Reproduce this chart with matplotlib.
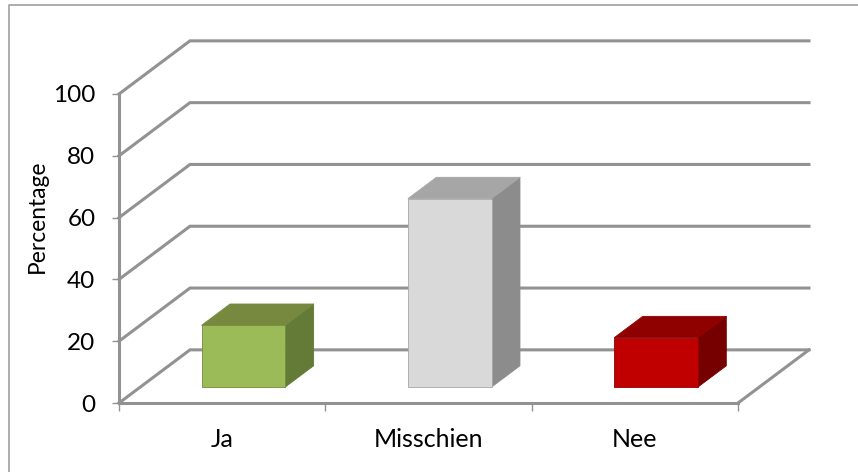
"""3D-look column chart, drawn as an oblique projection on a plain 2D axes."""
import matplotlib
matplotlib.use("Agg")
import matplotlib.pyplot as plt
from matplotlib.lines import Line2D
from matplotlib.patches import Polygon

plt.rcParams.update({"font.family": ["Lato", "DejaVu Sans"]})

CATEGORIES = ["Ja", "Misschien", "Nee"]
VALUES = [20, 61, 16]
FRONT = ["#9bbb59", "#d9d9d9", "#c00000"]
TOP = ["#77893f", "#a6a6a6", "#8f0000"]
SIDE = ["#647a37", "#8c8c8c", "#760000"]
YTICKS = [0, 20, 40, 60, 80, 100]
WALL = "#929292"

W, H = 858, 472
# floor depth expressed in axis units (one category wide, value scale)
DEPTH_X, DEPTH_Y = 0.344, 17.2
BAR_W = 0.405
BAR_Z = 0.30   # where the bar front stands on the floor, 0 front .. 1 back
BAR_D = 0.40   # bar depth as a fraction of floor depth


def proj(x, v, z=0.0):
    return x + DEPTH_X * z, v + DEPTH_Y * z


fig = plt.figure(figsize=(W / 100, H / 100), dpi=100)
# chart frame only shows on the left and top, the rest is cropped away
fig.add_artist(Line2D([8.5 / W, 8.5 / W, 1], [0, 1 - 4.5 / H, 1 - 4.5 / H], transform=fig.transFigure,
                      color="#a0a0a0", lw=1.2, zorder=-1))
ax = fig.add_axes([119 / W, 1 - 403 / H, (738 - 119) / W, (403 - 94) / H])
ax.patch.set_visible(False)
ax.set_xlim(0, 3)
ax.set_ylim(0, 100)

# gridlines: along the side wall, then along the back wall
for t in YTICKS:
    x0, y0 = proj(0, t, 1)
    x1, y1 = proj(3, t, 1)
    ax.plot([0, x0, x1], [t, y0, y1], color=WALL, lw=2.2, clip_on=False, zorder=1,
            solid_joinstyle="miter")
# floor front-right edge
x0, y0 = proj(3, 0, 1)
ax.plot([3, x0], [0, y0], color=WALL, lw=2.2, clip_on=False, zorder=1)

for i, v in enumerate(VALUES):
    xl = i + 0.5 - BAR_W / 2
    xr = i + 0.5 + BAR_W / 2
    z0, z1 = BAR_Z, BAR_Z + BAR_D
    front = [proj(xl, 0, z0), proj(xr, 0, z0), proj(xr, v, z0), proj(xl, v, z0)]
    side = [proj(xr, 0, z0), proj(xr, 0, z1), proj(xr, v, z1), proj(xr, v, z0)]
    top = [proj(xl, v, z0), proj(xr, v, z0), proj(xr, v, z1), proj(xl, v, z1)]
    kw = dict(clip_on=False, zorder=3, lw=0.6, joinstyle="round")
    ax.add_patch(Polygon(side, facecolor=SIDE[i], edgecolor=SIDE[i], **kw))
    ax.add_patch(Polygon(top, facecolor=TOP[i], edgecolor=TOP[i], **kw))
    ax.add_patch(Polygon(front, facecolor=FRONT[i], edgecolor=TOP[i], **kw))

for s in ["top", "right"]:
    ax.spines[s].set_visible(False)
for s in ["left", "bottom"]:
    ax.spines[s].set_color(WALL)
    ax.spines[s].set_linewidth(2.2)

ax.set_yticks(YTICKS)
ax.set_xticks([0, 1, 2, 3])
ax.set_xticklabels([])
ax.set_xticks([0.5, 1.5, 2.5], minor=True)
ax.set_xticklabels(CATEGORIES, minor=True)
ax.tick_params(axis="x", which="minor", length=0, labelsize=18, pad=18, labelcolor="black")
ax.tick_params(axis="x", which="major", length=6, width=1, color=WALL)
ax.tick_params(axis="y", length=5, width=1, color=WALL, labelsize=17.5, pad=12)
ax.set_ylabel("Percentage", fontsize=16.4)
ax.yaxis.set_label_coords(-0.115, 0.605)

fig.savefig("out.png", dpi=100)
